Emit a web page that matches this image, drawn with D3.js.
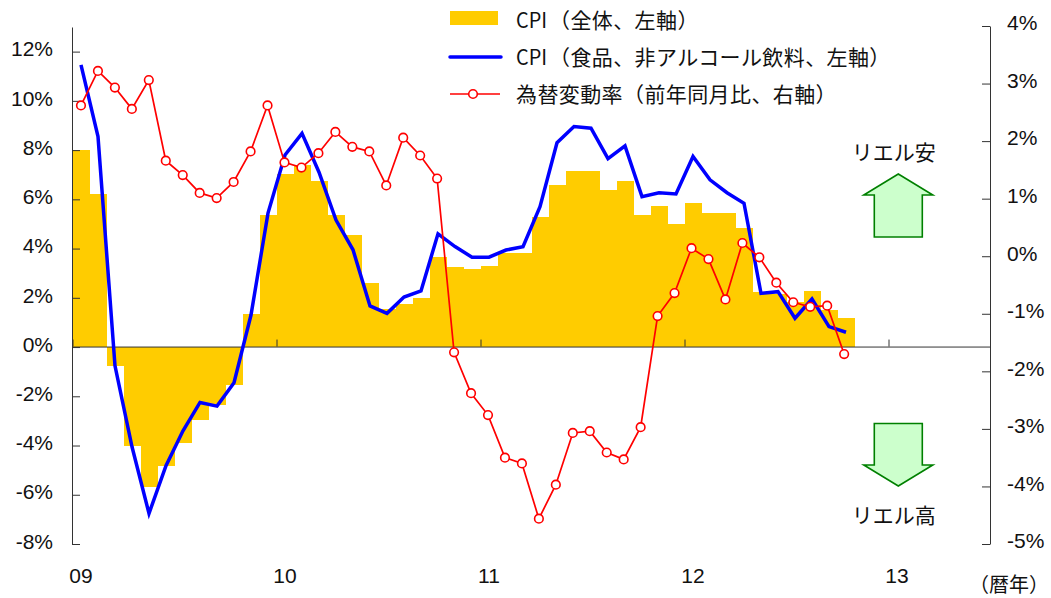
<!DOCTYPE html>
<html>
<head>
<meta charset="utf-8">
<script src="https://cdn.jsdelivr.net/npm/d3@7"></script>
<style>
html, body { margin: 0; padding: 0; background: #fff; }
svg { display: block; }
.num { font-family: "Liberation Sans", Arial, sans-serif; font-size: 21px; fill: #111; }
.jp { font-family: "Noto Sans CJK JP", sans-serif; font-size: 21px; fill: #111; }
</style>
</head>
<body>
<svg id="chart" width="1051" height="598"></svg>
<script>
var svg = d3.select('#chart');

// monthly, 2009-01 to 2012-10
var cpi_all = [8.0, 6.2, -0.76, -4.0, -5.7, -4.85, -3.9, -2.95, -2.37, -1.56, 1.34, 5.36,
	7.03, 7.4, 6.73, 5.36, 4.55, 2.6, 1.55, 1.75, 2.0, 3.67, 3.26, 3.18,
	3.3, 3.8, 3.8, 5.28, 6.58, 7.17, 7.17, 6.37, 6.73, 5.36, 5.72, 5.0,
	5.86, 5.43, 5.43, 4.84, 2.24, 2.15, 1.85, 2.28, 1.5, 1.19];
var cpi_food = [11.46, 8.55, -0.76, -4.05, -6.76, -4.82, -3.4, -2.25, -2.4, -1.45, 1.3, 5.44,
	7.8, 8.68, 7.1, 5.16, 3.95, 1.67, 1.37, 2.03, 2.28, 4.6, 4.08, 3.65,
	3.65, 3.94, 4.08, 5.7, 8.3, 8.96, 8.89, 7.65, 8.17, 6.11, 6.27, 6.22,
	7.74, 6.79, 6.27, 5.84, 2.18, 2.25, 1.17, 1.95, 0.83, 0.6];
var fx_rate = [2.62, 3.22, 2.93, 2.56, 3.06, 1.66, 1.41, 1.10, 1.01, 1.29, 1.82, 2.62,
	1.63, 1.54, 1.79, 2.16, 1.90, 1.82, 1.23, 2.06, 1.75, 1.35, -1.67, -2.38,
	-2.76, -3.50, -3.60, -4.56, -3.97, -3.07, -3.04, -3.41, -3.53, -2.97, -1.04, -0.64,
	0.14, -0.05, -0.75, 0.23, -0.02, -0.46, -0.80, -0.88, -0.86, -1.70];

var year_labels = ['09', '10', '11', '12', '13'];
var left_ticks = [-8, -6, -4, -2, 0, 2, 4, 6, 8, 10, 12];
var right_ticks = [-5, -4, -3, -2, -1, 0, 1, 2, 3, 4];
var legend_labels = ['（全体、左軸）', '（食品、非アルコール飲料、左軸）', '為替変動率（前年同月比、右軸）'];

var months_total = 54;
var x = d3.scaleLinear().domain([0, months_total]).range([72.5, 990.5]);
// the exchange rate series sits on a very slightly tighter month step
var x_fx = d3.scaleLinear().domain([0, months_total]).range([72.5, 988.3]);
var y_left = d3.scaleLinear().domain([-8, 13]).range([544, 27]);
var y_right = d3.scaleLinear().domain([-5, 4]).range([544, 26]);
var percent = d => d + '%';

// bars
svg.append('g').selectAll('rect').data(cpi_all).enter().append('rect')
	.attr('x', (d, i) => x(i))
	.attr('width', (d, i) => x(i + 1) - x(i))
	.attr('y', d => y_left(Math.max(d, 0)))
	.attr('height', d => Math.abs(y_left(d) - y_left(0)))
	.attr('fill', '#ffcc00')
	.attr('shape-rendering', 'crispEdges');

// axes
var axis_left = d3.axisLeft(y_left).tickValues(left_ticks).tickFormat(percent).tickSize(-8).tickSizeOuter(0).tickPadding(19);
var axis_right = d3.axisRight(y_right).tickValues(right_ticks).tickFormat(percent).tickSize(-8).tickSizeOuter(0).tickPadding(17);
var axis_x = d3.axisBottom(x).tickValues(year_labels.map((d, i) => i * 12)).tickFormat('').tickSize(-7).tickSizeOuter(0);

var g_left = svg.append('g').attr('transform', 'translate(72,0)').call(axis_left);
var g_right = svg.append('g').attr('transform', 'translate(990,0)').call(axis_right);
var g_x = svg.append('g').attr('transform', 'translate(0,' + (y_left(0) - 0.5) + ')').call(axis_x);

g_left.selectAll('text').attr('class', 'num').attr('fill', null).attr('dy', '0.2em');
g_right.selectAll('text').attr('class', 'num').attr('fill', null).attr('dy', '0.18em');
[g_left, g_right, g_x].forEach(g => {
	g.attr('font-family', null).attr('font-size', null);
	g.selectAll('path, line').attr('stroke', '#333');
});

svg.selectAll('.year').data(year_labels).enter().append('text')
	.attr('class', 'num year')
	.attr('x', (d, i) => x(i * 12 + 0.5))
	.attr('y', 583)
	.attr('text-anchor', 'middle')
	.text(d => d);

// lines
var line_food = d3.line().x((d, i) => x(i + 0.5)).y(d => y_left(d));
var line_fx = d3.line().x((d, i) => x_fx(i + 0.5)).y(d => y_right(d));

svg.append('path').datum(cpi_food)
	.attr('d', line_food)
	.attr('fill', 'none')
	.attr('stroke', '#0000ff')
	.attr('stroke-width', 3.5);

svg.append('path').datum(fx_rate)
	.attr('d', line_fx)
	.attr('fill', 'none')
	.attr('stroke', '#ff0000')
	.attr('stroke-width', 1.7);

svg.append('g').selectAll('circle').data(fx_rate).enter().append('circle')
	.attr('cx', (d, i) => x_fx(i + 0.5))
	.attr('cy', d => y_right(d))
	.attr('r', 4.3)
	.attr('fill', '#fff')
	.attr('stroke', '#ff0000')
	.attr('stroke-width', 1.6);

// legend
svg.append('rect').attr('x', 450).attr('y', 11).attr('width', 48).attr('height', 14).attr('fill', '#ffcc00');
svg.append('line').attr('x1', 450).attr('x2', 501).attr('y1', 57).attr('y2', 57)
	.attr('stroke', '#0000ff').attr('stroke-width', 3.5).attr('stroke-linecap', 'round');
svg.append('line').attr('x1', 450).attr('x2', 500).attr('y1', 94).attr('y2', 94)
	.attr('stroke', '#ff0000').attr('stroke-width', 1.7);
svg.append('circle').attr('cx', 473).attr('cy', 94).attr('r', 4.3)
	.attr('fill', '#fff').attr('stroke', '#ff0000').attr('stroke-width', 1.6);

legend_labels.forEach((label, i) => {
	var t = svg.append('text').attr('class', 'jp').attr('x', 516).attr('y', 27.5 + i * 37);
	if (i < 2) {
		t.append('tspan').attr('textLength', 31).attr('lengthAdjust', 'spacingAndGlyphs').text('CPI');
	}
	t.append('tspan').text(label).attr('dx', i < 2 ? 2 : 0).attr('letter-spacing', 0.4);
});

// arrows
var arrow_cx = 898.3, arrow_half = 24, wing_half = 34.5;
var arrow_up = [[arrow_cx, 174], [arrow_cx + wing_half, 195], [arrow_cx + arrow_half, 195], [arrow_cx + arrow_half, 237],
	[arrow_cx - arrow_half, 237], [arrow_cx - arrow_half, 195], [arrow_cx - wing_half, 195]];
var arrow_down = [[arrow_cx, 486], [arrow_cx + wing_half, 465], [arrow_cx + arrow_half, 465], [arrow_cx + arrow_half, 423.5],
	[arrow_cx - arrow_half, 423.5], [arrow_cx - arrow_half, 465], [arrow_cx - wing_half, 465]];

svg.selectAll('.arrow').data([arrow_up, arrow_down]).enter().append('path')
	.attr('class', 'arrow')
	.attr('d', d => d3.line()(d) + 'Z')
	.attr('fill', '#ccffcc')
	.attr('stroke', '#008000')
	.attr('stroke-width', 1.6);

svg.append('text').attr('class', 'jp').attr('x', arrow_cx - 4.5).attr('y', 160).attr('text-anchor', 'middle').text('リエル安');
svg.append('text').attr('class', 'jp').attr('x', arrow_cx - 4.5).attr('y', 523).attr('text-anchor', 'middle').text('リエル高');
svg.append('text').attr('class', 'jp').attr('x', 969).attr('y', 591.5).style('font-size', '20px').text('（暦年）');
</script>
</body>
</html>
